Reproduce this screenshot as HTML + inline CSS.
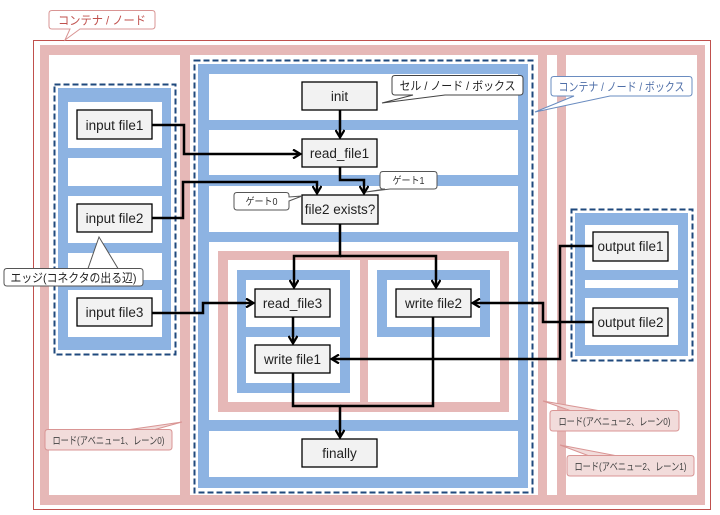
<!DOCTYPE html>
<html><head><meta charset="utf-8"><style>
html,body{margin:0;padding:0;background:#fff;}
svg{display:block;}
text{font-family:"Liberation Sans","Noto Sans CJK JP",sans-serif;}
</style></head><body>
<svg width="720" height="515" viewBox="0 0 720 515" xmlns="http://www.w3.org/2000/svg">
<defs>
<marker id="ar" markerWidth="10" markerHeight="10" refX="8" refY="5" orient="auto" markerUnits="userSpaceOnUse">
<path d="M1,0.5 L8.5,5 L1,9.5" fill="none" stroke="#000" stroke-width="2.2"/>
</marker>
</defs>
<rect x="33.5" y="40.5" width="677" height="469" fill="#fff" stroke="#c0504d" stroke-width="1"/>
<rect x="40" y="45" width="665" height="460" fill="#e6b8b7"/>
<rect x="49" y="55" width="131" height="440" fill="#fff"/>
<rect x="190" y="55" width="348" height="440" fill="#fff"/>
<rect x="547" y="55" width="10" height="440" fill="#fff"/>
<rect x="566" y="55" width="131" height="440" fill="#fff"/>

<rect x="54.5" y="84.5" width="121" height="270" fill="none" stroke="#1f497d" stroke-width="2" stroke-dasharray="6,3"/>
<rect x="58" y="88" width="113" height="262" fill="#8db3e2"/>
<rect x="68" y="102" width="94" height="46" fill="#fff"/>
<rect x="68" y="158" width="94" height="28" fill="#fff"/>
<rect x="68" y="196" width="94" height="47" fill="#fff"/>
<rect x="68" y="253" width="94" height="27" fill="#fff"/>
<rect x="68" y="290" width="94" height="47" fill="#fff"/>

<rect x="194.5" y="60.5" width="338" height="432" fill="none" stroke="#1f497d" stroke-width="2" stroke-dasharray="6,3"/>
<rect x="198" y="64" width="330" height="424" fill="#8db3e2"/>
<rect x="209" y="74" width="309" height="46" fill="#fff"/>
<rect x="209" y="130" width="309" height="45" fill="#fff"/>
<rect x="209" y="186" width="309" height="46" fill="#fff"/>
<rect x="209" y="242" width="309" height="178" fill="#fff"/>
<rect x="209" y="431" width="309" height="46" fill="#fff"/>
<rect x="218" y="251" width="291" height="161" fill="#e6b8b7"/>
<rect x="228" y="260" width="132" height="142" fill="#fff"/>
<rect x="368" y="260" width="132" height="142" fill="#fff"/>
<rect x="237" y="270" width="113" height="123" fill="#8db3e2"/>
<rect x="246" y="280" width="94" height="47" fill="#fff"/>
<rect x="246" y="337" width="94" height="46" fill="#fff"/>
<rect x="377" y="270" width="113" height="67" fill="#8db3e2"/>
<rect x="387" y="280" width="93" height="47" fill="#fff"/>

<rect x="571.5" y="209.5" width="121" height="151" fill="none" stroke="#1f497d" stroke-width="2" stroke-dasharray="6,3"/>
<rect x="575" y="213" width="113" height="143" fill="#8db3e2"/>
<rect x="585" y="225" width="93" height="45" fill="#fff"/>
<rect x="585" y="280" width="93" height="8" fill="#fff"/>
<rect x="585" y="298" width="93" height="47" fill="#fff"/>

<g fill="none" stroke="#000" stroke-width="2.5">
<path d="M340,110 V137" marker-end="url(#ar)"/>
<path d="M152,125 H184 V154 H300" marker-end="url(#ar)"/>
<path d="M340,167 V180 H364 V193" marker-end="url(#ar)"/>
<path d="M152,218 H183 V182 H317 V193" marker-end="url(#ar)"/>
<path d="M340,224 V256 H294 V287" marker-end="url(#ar)"/>
<path d="M340,256 H436 V287" marker-end="url(#ar)"/>
<path d="M152,313 H203 V303 H253" marker-end="url(#ar)"/>
<path d="M293,317 V343" marker-end="url(#ar)"/>
<path d="M593,246 H560 V359 H332" marker-end="url(#ar)"/>
<path d="M593,322 H543 V303 H473" marker-end="url(#ar)"/>
<path d="M293,373 V406 H340 V437" marker-end="url(#ar)"/>
<path d="M433,317 V406 H340"/>
</g>

<g fill="#f2f2f2" stroke="#000" stroke-width="1.3">
<rect x="77" y="110" width="75" height="29"/>
<rect x="77" y="204" width="75" height="28"/>
<rect x="77" y="298" width="75" height="28"/>
<rect x="302" y="82" width="75" height="28"/>
<rect x="302" y="139" width="75" height="28"/>
<rect x="302" y="195" width="76" height="29"/>
<rect x="255" y="289" width="75" height="28"/>
<rect x="255" y="345" width="75" height="28"/>
<rect x="396" y="289" width="75" height="28"/>
<rect x="302" y="439" width="75" height="28"/>
<rect x="593" y="232" width="75" height="29"/>
<rect x="593" y="308" width="75" height="28"/>
</g>
<g font-size="13.5" fill="#222" text-anchor="middle">
<text x="114.5" y="130">input file1</text>
<text x="114.5" y="223">input file2</text>
<text x="114.5" y="317">input file3</text>
<text x="339.5" y="101">init</text>
<text x="339.5" y="158">read_file1</text>
<text x="340" y="214">file2 exists?</text>
<text x="292.5" y="308">read_file3</text>
<text x="292.5" y="364">write file1</text>
<text x="433.5" y="308">write file2</text>
<text x="339.5" y="458">finally</text>
<text x="630.5" y="251">output file1</text>
<text x="630.5" y="327">output file2</text>
</g>

<g stroke-width="1">
<path d="M52,10.5 H152 Q155,10.5 155,13.5 V26 Q155,29 152,29 H80 L65,40 L70,29 H52 Q49,29 49,26 V13.5 Q49,10.5 52,10.5Z" fill="#fff" stroke="#d99594"/>
<path d="M395,75.5 H520 Q523,75.5 523,78.5 V92 Q523,95 520,95 H445 L382,103 L413,95 H395 Q392,95 392,92 V78.5 Q392,75.5 395,75.5Z" fill="#fff" stroke="#444"/>
<path d="M554,76.5 H689 Q692,76.5 692,79.5 V93 Q692,96 689,96 H610 L535,112 L574,96 H554 Q551,96 551,93 V79.5 Q551,76.5 554,76.5Z" fill="#fff" stroke="#6a8cc0"/>
<path d="M383,171.5 H434 Q437,171.5 437,174.5 V186 Q437,189 434,189 H390 L366,192 L385,189 H383 Q380,189 380,186 V174.5 Q380,171.5 383,171.5Z" fill="#fff" stroke="#555"/>
<path d="M237,192.5 H286 Q289,192.5 289,195.5 V197 L302,196 L289,201 V207 Q289,210 286,210 H237 Q234,210 234,207 V195.5 Q234,192.5 237,192.5Z" fill="#fff" stroke="#555"/>
<path d="M7,268.5 H140 Q143,268.5 143,271.5 V283 Q143,286 140,286 H7 Q4,286 4,283 V271.5 Q4,268.5 7,268.5 H88 L99,237 L118,268.5" fill="#fff" stroke="#555"/>
<path d="M48,429.5 H169 Q172,429.5 172,432.5 V447 Q172,450 169,450 H48 Q45,450 45,447 V432.5 Q45,429.5 48,429.5 H130 L182,422 L155,429.5" fill="#f2dcdb" stroke="#d99594"/>
<path d="M553,410.5 H676 Q679,410.5 679,413.5 V428 Q679,431 676,431 H553 Q550,431 550,428 V413.5 Q550,410.5 553,410.5 H570 L543,401 L598,410.5" fill="#f2dcdb" stroke="#d99594"/>
<path d="M570,455.5 H691 Q694,455.5 694,458.5 V473 Q694,476 691,476 H570 Q567,476 567,473 V458.5 Q567,455.5 570,455.5 H588 L560,445 L615,455.5" fill="#f2dcdb" stroke="#d99594"/>
</g>
<g text-anchor="middle">
<text x="102" y="24.5" fill="#c0504d" font-size="12" textLength="88" lengthAdjust="spacingAndGlyphs">コンテナ / ノード</text>
<text x="457.5" y="90" fill="#222" font-size="12" textLength="116" lengthAdjust="spacingAndGlyphs">セル / ノード / ボックス</text>
<text x="621.5" y="91" fill="#4f6fa8" font-size="12" textLength="126" lengthAdjust="spacingAndGlyphs">コンテナ / ノード / ボックス</text>
<text x="408.5" y="184" fill="#333" font-size="10" textLength="32" lengthAdjust="spacingAndGlyphs">ゲート1</text>
<text x="261.5" y="205" fill="#333" font-size="10" textLength="32" lengthAdjust="spacingAndGlyphs">ゲート0</text>
<text x="73.5" y="282" fill="#222" font-size="12" textLength="126" lengthAdjust="spacingAndGlyphs">エッジ(コネクタの出る辺)</text>
<text x="108.5" y="444" fill="#444" font-size="10.5" textLength="112" lengthAdjust="spacingAndGlyphs">ロード(アベニュー1、レーン0)</text>
<text x="614.5" y="425" fill="#444" font-size="10.5" textLength="112" lengthAdjust="spacingAndGlyphs">ロード(アベニュー2、レーン0)</text>
<text x="630.5" y="470" fill="#444" font-size="10.5" textLength="112" lengthAdjust="spacingAndGlyphs">ロード(アベニュー2、レーン1)</text>
</g>
</svg>
</body></html>
